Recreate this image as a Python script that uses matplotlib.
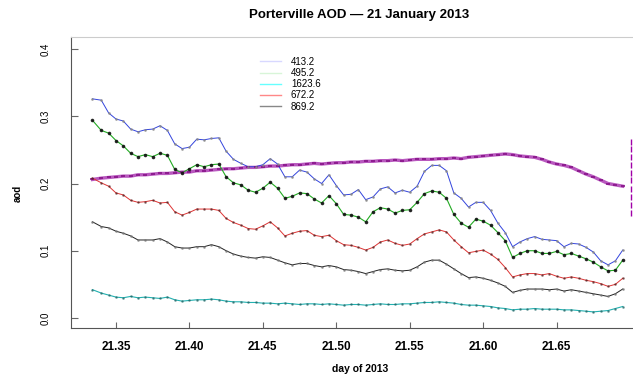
# Porterville AOD time series, 21 January 2013

import matplotlib
matplotlib.use('Agg')
import matplotlib.pyplot as plt
from matplotlib.lines import Line2D

plt.rcParams['font.family'] = ['Liberation Sans', 'DejaVu Sans']

# fractional day of year 2013
day = [21.334, 21.340, 21.345, 21.350, 21.355, 21.360, 21.365, 21.370, 21.375, 21.380,
       21.385, 21.390, 21.395, 21.400, 21.405, 21.410, 21.415, 21.420, 21.425, 21.430,
       21.435, 21.440, 21.445, 21.450, 21.455, 21.460, 21.465, 21.470, 21.475, 21.480,
       21.485, 21.490, 21.495, 21.500, 21.505, 21.510, 21.515, 21.520, 21.525, 21.530,
       21.535, 21.540, 21.545, 21.550, 21.555, 21.560, 21.565, 21.570, 21.575, 21.580,
       21.585, 21.590, 21.595, 21.600, 21.605, 21.610, 21.615, 21.620, 21.625, 21.630,
       21.635, 21.640, 21.645, 21.650, 21.655, 21.660, 21.665, 21.670, 21.675, 21.680,
       21.685, 21.690, 21.695]

# aerosol optical depth per wavelength (nm)
aod_413 = [0.326, 0.324, 0.305, 0.296, 0.293, 0.281, 0.277, 0.280, 0.281, 0.286,
           0.279, 0.259, 0.252, 0.254, 0.266, 0.265, 0.267, 0.268, 0.248, 0.236,
           0.230, 0.225, 0.225, 0.228, 0.237, 0.229, 0.210, 0.210, 0.220, 0.217,
           0.207, 0.200, 0.213, 0.197, 0.183, 0.184, 0.191, 0.176, 0.180, 0.192,
           0.195, 0.186, 0.190, 0.187, 0.196, 0.218, 0.227, 0.227, 0.219, 0.186,
           0.178, 0.165, 0.172, 0.172, 0.160, 0.141, 0.127, 0.106, 0.113, 0.118,
           0.121, 0.117, 0.116, 0.115, 0.106, 0.111, 0.110, 0.105, 0.098, 0.085,
           0.079, 0.085, 0.101]

aod_495 = [0.294, 0.279, 0.275, 0.264, 0.256, 0.245, 0.240, 0.243, 0.240, 0.245,
           0.242, 0.221, 0.216, 0.222, 0.228, 0.225, 0.228, 0.229, 0.210, 0.201,
           0.198, 0.190, 0.187, 0.193, 0.202, 0.193, 0.178, 0.181, 0.186, 0.185,
           0.177, 0.171, 0.182, 0.170, 0.154, 0.153, 0.150, 0.143, 0.158, 0.164,
           0.162, 0.156, 0.160, 0.161, 0.172, 0.185, 0.189, 0.187, 0.178, 0.154,
           0.141, 0.135, 0.147, 0.144, 0.138, 0.127, 0.115, 0.090, 0.096, 0.100,
           0.100, 0.096, 0.096, 0.099, 0.094, 0.096, 0.092, 0.088, 0.083, 0.076,
           0.070, 0.071, 0.086]

aod_1623 = [0.042, 0.037, 0.034, 0.031, 0.030, 0.032, 0.030, 0.031, 0.030, 0.029,
            0.031, 0.027, 0.025, 0.026, 0.027, 0.027, 0.028, 0.027, 0.025, 0.024,
            0.024, 0.023, 0.023, 0.022, 0.022, 0.021, 0.022, 0.021, 0.020, 0.021,
            0.021, 0.020, 0.021, 0.020, 0.019, 0.020, 0.020, 0.019, 0.020, 0.021,
            0.020, 0.020, 0.021, 0.021, 0.022, 0.023, 0.023, 0.024, 0.023, 0.022,
            0.020, 0.019, 0.019, 0.018, 0.017, 0.015, 0.014, 0.012, 0.013, 0.013,
            0.014, 0.013, 0.013, 0.013, 0.012, 0.012, 0.011, 0.010, 0.009, 0.010,
            0.011, 0.014, 0.017]

aod_672 = [0.208, 0.201, 0.196, 0.186, 0.183, 0.175, 0.172, 0.173, 0.175, 0.171,
           0.172, 0.158, 0.153, 0.157, 0.162, 0.162, 0.162, 0.160, 0.148, 0.142,
           0.138, 0.133, 0.132, 0.137, 0.143, 0.134, 0.122, 0.126, 0.129, 0.130,
           0.123, 0.121, 0.123, 0.115, 0.109, 0.108, 0.105, 0.101, 0.105, 0.113,
           0.116, 0.111, 0.108, 0.110, 0.118, 0.125, 0.128, 0.131, 0.128, 0.116,
           0.106, 0.097, 0.099, 0.101, 0.095, 0.087, 0.075, 0.061, 0.064, 0.066,
           0.066, 0.064, 0.066, 0.062, 0.059, 0.061, 0.059, 0.056, 0.054, 0.051,
           0.047, 0.050, 0.059]

aod_869 = [0.143, 0.136, 0.134, 0.129, 0.126, 0.122, 0.116, 0.116, 0.116, 0.118,
           0.113, 0.106, 0.104, 0.104, 0.106, 0.106, 0.109, 0.106, 0.100, 0.095,
           0.092, 0.090, 0.089, 0.091, 0.090, 0.086, 0.082, 0.079, 0.081, 0.081,
           0.078, 0.076, 0.078, 0.076, 0.072, 0.071, 0.069, 0.066, 0.069, 0.072,
           0.073, 0.071, 0.070, 0.071, 0.076, 0.083, 0.086, 0.086, 0.080, 0.073,
           0.066, 0.060, 0.061, 0.059, 0.056, 0.052, 0.047, 0.038, 0.041, 0.043,
           0.043, 0.043, 0.042, 0.043, 0.040, 0.042, 0.040, 0.038, 0.036, 0.034,
           0.032, 0.036, 0.043]

# extra purple trace (unlabelled)
purple = [0.206, 0.208, 0.209, 0.210, 0.211, 0.211, 0.213, 0.213, 0.214, 0.215,
          0.215, 0.216, 0.217, 0.217, 0.219, 0.219, 0.220, 0.221, 0.222, 0.222,
          0.223, 0.224, 0.224, 0.225, 0.226, 0.226, 0.227, 0.228, 0.228, 0.229,
          0.230, 0.229, 0.230, 0.231, 0.231, 0.232, 0.232, 0.233, 0.233, 0.234,
          0.234, 0.235, 0.234, 0.235, 0.236, 0.236, 0.236, 0.237, 0.237, 0.238,
          0.237, 0.239, 0.240, 0.241, 0.242, 0.243, 0.244, 0.243, 0.241, 0.240,
          0.239, 0.236, 0.232, 0.229, 0.227, 0.224, 0.219, 0.214, 0.210, 0.205,
          0.200, 0.198, 0.196]
purple_tail_day = 21.7006
purple_tail = [0.262, 0.252, 0.240, 0.228, 0.216, 0.205, 0.192, 0.180, 0.168, 0.156]

legend_labels = ['413.2', '495.2', '1623.6', '672.2', '869.2']
legend_colors = ['#d8d8ff', '#d8f5d8', '#66ffff', '#ff8888', '#888888']

fig = plt.figure(figsize=(6.33, 3.75), dpi=100)
ax = fig.add_axes([0.1122, 0.1253, 0.918, 0.776])

# series lines with their sample points
ax.plot(day, purple, color='#a020a8', lw=2.4, alpha=0.75, zorder=2)
ax.plot(day, purple, ls='none', marker='_', ms=3.5, mew=1.2, color='#7a007a',
        alpha=0.8, zorder=3)
ax.plot([purple_tail_day] * len(purple_tail), purple_tail, ls='none', marker='|',
        ms=4, color='#a000a8', zorder=3)

ax.plot(day, aod_413, color='#3344dd', lw=0.7, zorder=2)
ax.plot(day, aod_413, ls='none', marker='.', ms=1.8, color='#888888', alpha=0.8, zorder=3)

ax.plot(day, aod_495, color='#22aa22', lw=0.8, zorder=2)
ax.plot(day, aod_495, ls='none', marker='.', ms=3.2, color='#111111', alpha=0.85, zorder=3)

ax.plot(day, aod_672, color='#dd3333', lw=0.7, zorder=2)
ax.plot(day, aod_672, ls='none', marker='.', ms=1.8, color='#552222', alpha=0.6, zorder=3)

ax.plot(day, aod_869, color='#222222', lw=0.7, zorder=2)
ax.plot(day, aod_869, ls='none', marker='.', ms=1.8, color='#777777', alpha=0.7, zorder=3)

ax.plot(day, aod_1623, color='#22b0b0', lw=0.8, zorder=2)
ax.plot(day, aod_1623, ls='none', marker='.', ms=1.8, color='#226666', alpha=0.6, zorder=3)

ax.set_xlim(21.3194, 21.715)
ax.set_ylim(-0.015, 0.418)
ax.set_xticks([21.35, 21.40, 21.45, 21.50, 21.55, 21.60, 21.65])
ax.set_xticklabels(['21.35', '21.40', '21.45', '21.50', '21.55', '21.60', '21.65'],
                   fontsize=8.5, fontweight='bold')
ax.set_yticks([0.0, 0.1, 0.2, 0.3, 0.4])
ax.set_yticklabels(['0.0', '0.1', '0.2', '0.3', '0.4'], fontsize=7, rotation=90,
                   va='center')
ax.tick_params(axis='x', direction='in', length=4, pad=9, color='#666666')
ax.tick_params(axis='y', direction='in', length=5, pad=15, color='#666666')

for side in ['left', 'bottom']:
    ax.spines[side].set_color('#555555')
    ax.spines[side].set_linewidth(0.8)
ax.spines['top'].set_color('#cccccc')
ax.spines['top'].set_linewidth(0.8)

fig.text(359 / 633, 1 - 15 / 375, 'Porterville AOD \u2014 21 January 2013',
         ha='center', va='center', fontsize=9.5, fontweight='bold')
fig.text(360 / 633, 1 - 369 / 375, 'day of 2013', ha='center', va='center',
         fontsize=7.5, fontweight='bold')
fig.text(18 / 633, 1 - 193 / 375, 'aod', ha='center', va='center', rotation=90,
         fontsize=7, fontweight='bold')

handles = [Line2D([0], [0], color=c, lw=1) for c in legend_colors]
ax.legend(handles, legend_labels, loc='upper left', bbox_to_anchor=(255 / 633, 1 - 52 / 375),
          bbox_transform=fig.transFigure, frameon=False, fontsize=7, borderpad=0,
          handlelength=2.2, handletextpad=1.0, labelspacing=0.12)

plt.savefig('out.png', dpi=100)
